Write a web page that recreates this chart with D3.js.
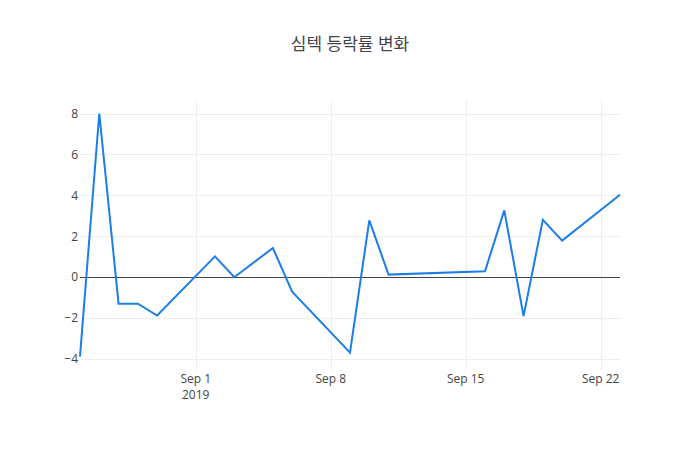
<!DOCTYPE html>
<html><head><meta charset="utf-8">
<script src="https://cdn.jsdelivr.net/npm/d3@7"></script>
<style>body{margin:0;background:#fff}svg{display:block}</style>
</head><body>
<script>
const title = "심텍 등락률 변화";
const dates = ["2019-08-26","2019-08-27","2019-08-28","2019-08-29","2019-08-30","2019-09-02","2019-09-03","2019-09-05","2019-09-06","2019-09-09","2019-09-10","2019-09-11","2019-09-16","2019-09-17","2019-09-18","2019-09-19","2019-09-20","2019-09-23"];
const values = [-3.87, 8.0, -1.29, -1.29, -1.87, 1.02, 0.0, 1.43, -0.70, -3.68, 2.78, 0.13, 0.29, 3.27, -1.90, 2.81, 1.79, 4.03];
const yTicks = [-4, -2, 0, 2, 4, 6, 8];
const xTickDates = ["2019-09-01","2019-09-08","2019-09-15","2019-09-22"];
const yearLabel = "2019";

const W = 700, H = 450, m = {l:80, r:80, t:100, b:80};
const parse = d3.timeParse("%Y-%m-%d");
const pts = dates.map((d,i)=>({x:parse(d), y:values[i]}));
const svg = d3.select("body").append("svg").attr("width",W).attr("height",H)
  .style("font-family","'Open Sans', 'Noto Sans CJK KR', sans-serif");

const x = d3.scaleTime().domain(d3.extent(pts,d=>d.x)).range([m.l, W-m.r]);
const ext = d3.extent(values); const pad = (ext[1]-ext[0])/18;
const y = d3.scaleLinear().domain([ext[0]-pad, ext[1]+pad]).range([H-m.b, m.t]);

const g = svg.append("g");
g.selectAll(".gy").data(yTicks.filter(t=>t!==0)).join("line")
  .attr("x1",m.l).attr("x2",W-m.r).attr("y1",d=>Math.round(y(d))+0.5).attr("y2",d=>Math.round(y(d))+0.5)
  .attr("stroke","#eee").attr("stroke-width",1);
g.selectAll(".gx").data(xTickDates.map(parse)).join("line")
  .attr("y1",m.t).attr("y2",H-m.b).attr("x1",d=>Math.round(x(d))+0.5).attr("x2",d=>Math.round(x(d))+0.5)
  .attr("stroke","#eee").attr("stroke-width",1);
g.append("line").attr("x1",m.l).attr("x2",W-m.r).attr("y1",Math.round(y(0))+0.5).attr("y2",Math.round(y(0))+0.5)
  .attr("stroke","#444").attr("stroke-width",1);

svg.append("g").selectAll("text").data(yTicks).join("text")
  .attr("x",m.l-2).attr("y",d=>y(d)).attr("dy","0.35em").attr("text-anchor","end")
  .attr("font-size",12).attr("fill","#444")
  .text(d=>d<0 ? "\u2212"+Math.abs(d) : d);

const fmt = d3.timeFormat("%b %-d");
svg.append("g").selectAll("text").data(xTickDates.map(parse)).join("text")
  .attr("x",d=>x(d)).attr("y",H-m.b+13).attr("text-anchor","middle")
  .attr("font-size",12).attr("fill","#444").text(d=>fmt(d));
svg.append("text").attr("x",x(parse(xTickDates[0]))).attr("y",H-m.b+29).attr("text-anchor","middle")
  .attr("font-size",12).attr("fill","#444").text(yearLabel);

svg.append("path").datum(pts)
  .attr("d", d3.line().x(d=>x(d.x)).y(d=>y(d.y)))
  .attr("fill","none").attr("stroke","#1a7de8").attr("stroke-width",2).attr("stroke-linejoin","miter");

svg.append("text").attr("x",W/2).attr("y",50).attr("text-anchor","middle")
  .attr("font-size",17).attr("fill","#444").text(title);
</script>
</body></html>
